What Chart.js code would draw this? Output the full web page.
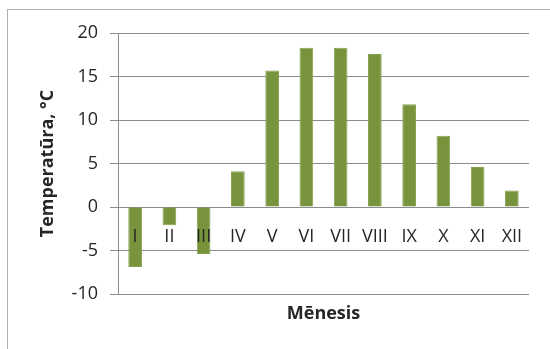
<!DOCTYPE html>
<html>
<head>
<meta charset="utf-8">
<script src="https://cdn.jsdelivr.net/npm/chart.js@4"></script>
<style>
  html, body { margin: 0; padding: 0; background: #ffffff; overflow: hidden; }
  #wrap { position: relative; width: 550px; height: 349px; }
  #frame { position: absolute; left: 7px; top: 9px; width: 560px; height: 360px; border: 1px solid #B0B0B0; box-sizing: border-box; }
  canvas { position: absolute; left: 0; top: 0; }
</style>
</head>
<body>
<div id="wrap">
  <div id="frame"></div>
  <canvas id="c" width="550" height="349"></canvas>
</div>
<script>
// Monthly mean air temperature
const months = ['I', 'II', 'III', 'IV', 'V', 'VI', 'VII', 'VIII', 'IX', 'X', 'XI', 'XII'];
const temperature = [-6.9, -2.1, -5.4, 4.1, 15.7, 18.3, 18.3, 17.6, 11.8, 8.2, 4.6, 1.9];
const yTicks = { min: -10, max: 20, step: 5 };
const yTitle = 'Temperatūra, °C';
const xTitle = 'Mēnesis';

const FONT = '"Open Sans", Lato, "Liberation Sans", sans-serif';
const GRID = '#8C8C8C';
const TEXT = '#262626';

new Chart(document.getElementById('c'), {
  type: 'bar',
  data: {
    labels: months,
    datasets: [{
      data: temperature,
      backgroundColor: '#77933C',
      borderColor: '#86A24E',
      borderWidth: 1,
      barPercentage: 0.4,
      categoryPercentage: 1.0,
      xAxisID: 'x'
    }]
  },
  options: {
    responsive: false,
    animation: false,
    devicePixelRatio: 1,
    layout: { padding: { left: 33, top: 33, right: 21, bottom: 20 } },
    plugins: { legend: { display: false }, tooltip: { enabled: false } },
    scales: {
      // month labels sit on the zero line, drawn over the bars
      x: {
        type: 'category',
        position: { y: 0 },
        offset: true,
        grid: { display: false, drawTicks: false },
        border: { display: false },
        ticks: { z: 1, color: TEXT, font: { family: FONT, size: 18 }, padding: 19, maxRotation: 0, autoSkip: false }
      },
      // bottom axis only carries the title
      x2: {
        type: 'category',
        position: 'bottom',
        grid: { display: false, drawTicks: false },
        border: { display: false },
        ticks: { display: false },
        title: { display: true, text: xTitle, color: TEXT, font: { family: FONT, size: 18, weight: 'bold' } },
        afterFit(scale) { scale.height = 35; }
      },
      y: {
        min: yTicks.min,
        max: yTicks.max,
        ticks: { stepSize: yTicks.step, color: TEXT, font: { family: FONT, size: 18 }, padding: 12 },
        grid: { color: GRID, lineWidth: 1, tickLength: 8, drawTicks: true },
        border: { display: true, color: GRID, width: 1 },
        title: { display: true, text: yTitle, color: TEXT, font: { family: FONT, size: 18, weight: 'bold' } },
        afterFit(scale) { scale.width = 85; }
      }
    }
  }
});
</script>
</body>
</html>
